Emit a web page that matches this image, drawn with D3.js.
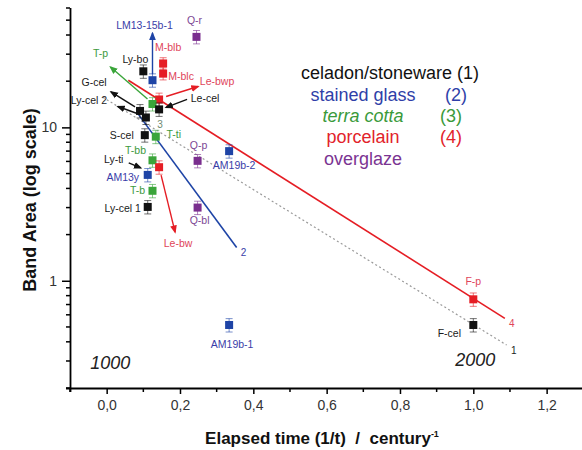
<!DOCTYPE html>
<html>
<head>
<meta charset="utf-8">
<script src="https://cdn.jsdelivr.net/npm/d3@7"></script>
<style>
    body { margin: 0; background: #fff; }
    text { font-family: "Liberation Sans", Arial, sans-serif; }
</style>
</head>
<body>
<div id="wrapper"></div>
<script>
// samples (x = 1/t in century^-1, y = band area)
const sampleNames = ["Q-r", "M-blb", "M-blc", "LM13-15b-1", "Ly-bo", "Le-bwp", "T-p", "Le-cel",
    "G-cel", "Ly-cel 2", "S-cel", "T-ti", "Q-p", "AM19b-2", "T-bb", "Le-bw", "AM13y", "T-b",
    "Ly-cel 1", "Q-bl", "AM19b-1", "F-p", "F-cel"]
const sampleTime = [0.245, 0.154, 0.154, 0.125, 0.100, 0.143, 0.125, 0.143,
    0.091, 0.107, 0.104, 0.134, 0.248, 0.334, 0.125, 0.143, 0.112, 0.125,
    0.112, 0.248, 0.334, 1.0, 1.0]
const sampleArea = [38.9, 26.1, 22.4, 20.3, 23.2, 15.2, 14.2, 13.1,
    12.8, 11.6, 8.9, 8.7, 6.05, 7.0, 6.1, 5.5, 4.9, 3.86,
    3.03, 3.0, 0.515, 0.757, 0.515]
const sampleType = ["overglaze", "porcelain", "porcelain", "glass", "celadon", "porcelain", "terra", "celadon",
    "celadon", "celadon", "celadon", "terra", "overglaze", "glass", "terra", "porcelain", "glass", "terra",
    "celadon", "overglaze", "glass", "porcelain", "celadon"]
const sampleErr = [0.1, 0.09, 0.09, 0.1, 0.1, 0.1, 0.1, 0.1,
    0.1, 0.1, 0.1, 0.1, 0.1, 0.1, 0.1, 0.1, 0.1, 0.1,
    0.1, 0.1, 0.1, 0.1, 0.1]

// fitted lines (two end points each)
const fitLabels = ["1", "2", "4"]
const fitType = ["celadon", "glass", "porcelain"]
const fitTime = [[-0.01, 1.091], [0.086, 0.3545], [0.059, 1.086]]
const fitArea = [[15.7, 0.381], [12.2, 1.65], [20.3, 0.569]]

// legend
const legendTypes = ["celadon", "glass", "terra", "porcelain", "overglaze"]
const legendNames = ["celadon/stoneware", "stained glass", "terra cotta", "porcelain", "overglaze"]
const legendNums = ["(1)", "(2)", "(3)", "(4)", ""]

// ticks
const xTickValues = [0, 0.2, 0.4, 0.6, 0.8, 1.0, 1.2]
const xMinorValues = [-0.1, 0.1, 0.3, 0.5, 0.7, 0.9, 1.1, 1.3]
const yTickValues = [1, 10]
const yMinorValues = [0.2, 0.3, 0.4, 0.5, 0.6, 0.7, 0.8, 0.9, 2, 3, 4, 5, 6, 7, 8, 9, 20, 30, 40, 50, 60]

const pointColor = {
    celadon: "#111111", glass: "#1e44a6", terra: "#3aa53a", porcelain: "#e51d24", overglaze: "#7a2e8e"
}
const textColor = {
    celadon: "#1a1a1a", glass: "#3a3da8", terra: "#3d9a3d", porcelain: "#e0455a", overglaze: "#7c4794"
}
const legendColor = {
    celadon: "#111111", glass: "#2f3fa8", terra: "#3a9a3a", porcelain: "#e2232b", overglaze: "#7b3492"
}

// label placement relative to the marker (px)
const labelOffset = {
    "Q-r": [-2, -17], "M-blb": [5, -16], "M-blc": [18, 3], "LM13-15b-1": [-8, -55], "Ly-bo": [-8, -12],
    "Le-bwp": [58, -18], "T-p": [-52, -51], "Le-cel": [46, -11], "G-cel": [-46, -29], "Ly-cel 2": [-57, -17],
    "S-cel": [-23, 0], "T-ti": [18, -2], "Q-p": [1, -16], "AM19b-2": [5, 14], "T-bb": [-17, -10],
    "Le-bw": [19, 76], "AM13y": [-25, 2], "T-b": [-15, 0], "Ly-cel 1": [-25, 1], "Q-bl": [2, 13],
    "AM19b-1": [3, 19], "F-p": [0, -18], "F-cel": [-24, 8]
}
// arrows from the marker: [sample, x1, y1, x2, y2] offsets in px, head at the second end
const arrows = [
    ["LM13-15b-1", 0, -6, 0, -47],
    ["Le-bwp", 7, -3, 39, -13],
    ["T-p", -5, -5, -42, -37],
    ["Le-cel", 28, -10, 7, -2],
    ["G-cel", -5, -4, -29, -19],
    ["Ly-cel 2", -6, -3, -28, -11],
    ["Le-bw", 2, 8, 16, 65],
    ["AM13y", -19, -12, -7, -7]
]

function drawChart() {
    const dimensions = {
        width: 582,
        height: 450,
        left: 70,
        bottom: 388,
        top: 8,
    }

    const wrapper = d3.select("#wrapper")
        .append("svg")
        .attr("width", dimensions.width)
        .attr("height", dimensions.height)

    const xScaler = d3.scaleLinear()
        .domain([-0.1, 1.3])
        .range([dimensions.left, 583.3])

    const yScaler = d3.scaleLog()
        .domain([0.2, 60])
        .range([dimensions.bottom, dimensions.top])

    // arrow heads
    const defs = wrapper.append("defs")
    Object.keys(pointColor).forEach(k => {
        defs.append("marker")
            .attr("id", "head-" + k)
            .attr("viewBox", "0 0 10 10")
            .attr("refX", 8).attr("refY", 5)
            .attr("markerWidth", 6).attr("markerHeight", 6)
            .attr("orient", "auto")
            .append("path")
            .attr("d", "M0,1 L10,5 L0,9 Z")
            .attr("fill", pointColor[k])
    })

    // fit lines
    fitLabels.forEach((lab, i) => {
        const t = fitType[i]
        wrapper.append("line")
            .attr("x1", xScaler(fitTime[i][0]))
            .attr("y1", yScaler(fitArea[i][0]))
            .attr("x2", xScaler(fitTime[i][1]))
            .attr("y2", yScaler(fitArea[i][1]))
            .attr("stroke", t === "celadon" ? "#9a9a9a" : pointColor[t])
            .attr("stroke-width", t === "celadon" ? 1.2 : 1.6)
            .attr("stroke-dasharray", t === "celadon" ? "2 2.5" : null)
        wrapper.append("text")
            .attr("x", xScaler(fitTime[i][1]) + 7)
            .attr("y", yScaler(fitArea[i][1]) + 9)
            .attr("font-size", 10)
            .attr("fill", t === "celadon" ? "#222" : textColor[t])
            .attr("text-anchor", "middle")
            .text(lab)
    })
    // label of the terra cotta line
    wrapper.append("text")
        .attr("x", 160).attr("y", 128)
        .attr("font-size", 10)
        .attr("fill", "#6f8a6f")
        .attr("text-anchor", "middle")
        .text("3")

    // arrows
    arrows.forEach(a => {
        const i = sampleNames.indexOf(a[0])
        const px = xScaler(sampleTime[i]), py = yScaler(sampleArea[i])
        const t = a[0] === "AM13y" ? "celadon" : sampleType[i]
        wrapper.append("line")
            .attr("x1", px + a[1]).attr("y1", py + a[2])
            .attr("x2", px + a[3]).attr("y2", py + a[4])
            .attr("stroke", pointColor[t])
            .attr("stroke-width", 1.4)
            .attr("marker-end", `url(#head-${t})`)
    })
    // Ly-ti label (its marker sits under AM13y)
    {
        const i = sampleNames.indexOf("AM13y")
        wrapper.append("text")
            .attr("x", xScaler(sampleTime[i]) - 34)
            .attr("y", yScaler(sampleArea[i]) - 12)
            .attr("font-size", 10.5)
            .attr("fill", textColor.celadon)
            .attr("text-anchor", "middle")
            .text("Ly-ti")
    }

    // error bars + markers
    const pts = wrapper.append("g")
        .selectAll("g")
        .data(sampleNames.map((n, i) => ({
            name: n, x: sampleTime[i], y: sampleArea[i], type: sampleType[i], err: sampleErr[i]
        })))
        .enter()
        .append("g")

    pts.append("path")
        .attr("d", d => {
            const cx = xScaler(d.x)
            const y1 = yScaler(d.y * (1 - d.err)), y2 = yScaler(d.y * (1 + d.err))
            return `M${cx},${y1}V${y2}M${cx - 3.5},${y1}H${cx + 3.5}M${cx - 3.5},${y2}H${cx + 3.5}`
        })
        .attr("stroke", d => pointColor[d.type]).attr("stroke-opacity", 0.6)
        .attr("fill", "none")

    pts.append("rect")
        .attr("x", d => xScaler(d.x) - 4)
        .attr("y", d => yScaler(d.y) - 4)
        .attr("width", 8).attr("height", 8)
        .attr("fill", d => pointColor[d.type])

    pts.append("text")
        .attr("x", d => xScaler(d.x) + labelOffset[d.name][0])
        .attr("y", d => yScaler(d.y) + labelOffset[d.name][1])
        .attr("dy", "0.35em")
        .attr("font-size", 10.5)
        .attr("fill", d => textColor[d.type])
        .attr("text-anchor", "middle")
        .text(d => d.name)

    // axes
    const xAxis = wrapper.append("g")
        .attr("transform", `translate(0,${dimensions.bottom})`)
        .call(d3.axisBottom(xScaler).tickValues(xTickValues)
            .tickFormat(d => d3.format(".1f")(d).replace(".", ",")).tickSize(6).tickPadding(6))
    xAxis.append("g").selectAll("line")
        .data(xMinorValues).enter().append("line")
        .attr("x1", d => xScaler(d)).attr("x2", d => xScaler(d))
        .attr("y1", 0).attr("y2", 4)
        .attr("stroke", "#000").attr("stroke-width", 1.5)

    const yAxis = wrapper.append("g")
        .attr("transform", `translate(${dimensions.left},0)`)
        .call(d3.axisLeft(yScaler).tickValues(yTickValues)
            .tickFormat(d3.format("d")).tickSize(8).tickPadding(5))
    yAxis.append("g").selectAll("line")
        .data(yMinorValues).enter().append("line")
        .attr("x1", 0).attr("x2", -4)
        .attr("y1", d => yScaler(d)).attr("y2", d => yScaler(d))
        .attr("stroke", "#000").attr("stroke-width", 1.5)

    ;[xAxis, yAxis].forEach(ax => {
        ax.select(".domain").attr("stroke-width", 1.8)
        ax.selectAll(".tick line").attr("stroke-width", 1.5)
        ax.selectAll(".tick text")
            .attr("font-family", "Liberation Sans, Arial, sans-serif")
            .attr("font-size", 14).attr("fill", "#333")
    })
    xAxis.select(".domain").attr("d", `M${dimensions.left - 4},0.5H582`)
    yAxis.select(".domain").attr("d", `M0.5,${dimensions.bottom + 4}V${dimensions.top}`)

    // axis titles
    wrapper.append("text")
        .attr("transform", `translate(30,200) rotate(-90)`)
        .attr("text-anchor", "middle")
        .attr("dy", "0.35em")
        .attr("font-size", 18).attr("font-weight", "bold")
        .attr("fill", "#111")
        .text("Band Area (log scale)")

    const xt = wrapper.append("text")
        .attr("x", 322).attr("y", 438)
        .attr("text-anchor", "middle")
        .attr("dy", "0.35em")
        .attr("font-size", 17).attr("font-weight", "bold")
        .attr("fill", "#111")
        .style("white-space", "pre")
    xt.append("tspan").text("Elapsed time (1/t)  /  century")
    xt.append("tspan").attr("dy", "-0.75em").attr("font-size", 9).text("-1")

    // date marks
    wrapper.append("text")
        .attr("x", xScaler(0.01)).attr("y", 369)
        .attr("text-anchor", "middle")
        .attr("font-size", 18).attr("font-style", "italic").attr("fill", "#222")
        .text("1000")
    wrapper.append("text")
        .attr("x", xScaler(1.0) + 2).attr("y", 366)
        .attr("text-anchor", "middle")
        .attr("font-size", 18).attr("font-style", "italic").attr("fill", "#222")
        .text("2000")

    // legend
    const legend = wrapper.append("g")
    legendTypes.forEach((t, i) => {
        const y = 73 + i * 21.3
        if (i === 0) {
            legend.append("text")
                .attr("x", 390).attr("y", y).attr("dy", "0.35em")
                .attr("text-anchor", "middle")
                .attr("font-size", 18).attr("fill", legendColor[t])
                .text(`${legendNames[i]} ${legendNums[i]}`)
            return
        }
        legend.append("text")
            .attr("x", 363).attr("y", y).attr("dy", "0.35em")
            .attr("text-anchor", "middle")
            .attr("font-size", 18).attr("fill", legendColor[t])
            .attr("font-style", t === "terra" ? "italic" : null)
            .text(legendNames[i])
        legend.append("text")
            .attr("x", i === 1 ? 456 : 451).attr("y", y).attr("dy", "0.35em")
            .attr("text-anchor", "middle")
            .attr("font-size", 18).attr("fill", legendColor[t])
            .text(legendNums[i])
    })
}

drawChart()
</script>
</body>
</html>
